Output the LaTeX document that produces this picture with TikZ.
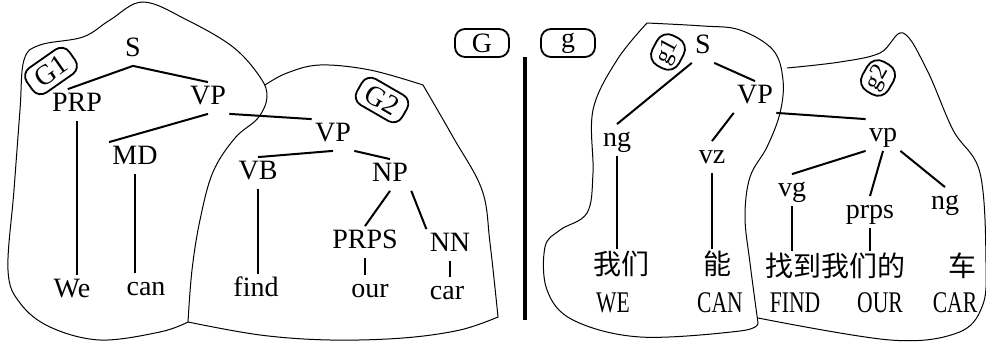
\documentclass[tikz,border=0pt]{standalone}
\usepackage{fontspec}
\setmainfont{Liberation Serif}
\newfontfamily\cjk{Noto Sans CJK SC}
\newfontfamily\glossfont[FakeStretch=0.72]{Liberation Serif}
\tikzset{
  tn/.style={inner sep=1.5pt,text height=9.5pt,text depth=3pt,font=\fontsize{14}{16}\selectfont},
  zh/.style={inner sep=1pt,font=\cjk\fontsize{14}{16}\selectfont},
  gl/.style={inner sep=1pt,font=\glossfont\fontsize{15}{17}\selectfont},
  tag/.style={draw,rounded corners=5pt,line width=0.9pt,inner sep=1pt,font=\fontsize{14}{16}\selectfont},
  edge/.style={line width=1pt},
  blob/.style={line width=0.5pt},
}

\begin{document}
\begin{tikzpicture}[x=0.5pt,y=-0.5pt]
 \useasboundingbox (0,0) rectangle (986,352);
 % English tree
 \node[tn] (eS) at (133,50) {S};
 \node[tn] (ePRP) at (77,105) {PRP};
 \node[tn] (eVPa) at (208,98) {VP};
 \node[tn] (eMD) at (135,158) {MD};
 \node[tn] (eVPb) at (333,135) {VP};
 \node[tn] (eVB) at (258,173) {VB};
 \node[tn] (eNP) at (390,175) {NP};
 \node[tn] (ePRPS) at (365,242) {PRPS};
 \node[tn] (eNN) at (450,245) {NN};
 \node[tn] (eWe) at (72,291) {We};
 \node[tn] (eCan) at (146,289) {can};
 \node[tn] (eFind) at (256,290) {find};
 \node[tn] (eOur) at (370,291) {our};
 \node[tn] (eCar) at (447,293) {car};
 \foreach \a/\b in {eS.south/ePRP.120,eS.south/eVPa.north,eVPa.south/eMD.north west,
   eVPa.south east/eVPb.north west,eVPb.south/eVB.north,eVPb.south east/eNP.north,
   eNP.south/ePRPS.north,eNP.south east/eNN.north west}
   \draw[edge] (\a) -- (\b);
 \foreach \a/\b in {ePRP/eWe,eMD/eCan,eVB/eFind,ePRPS/eOur,eNN/eCar}
   \draw[edge] (\a.south) -- (\a.south |- \b.north);
 % Chinese tree
 \node[tn] (cS) at (703,47) {S};
 \node[tn] (cVP) at (755,97) {VP};
 \node[tn] (cng) at (617,140) {ng};
 \node[tn] (cvz) at (712,157) {vz};
 \node[tn] (cvp) at (883,135) {vp};
 \node[tn] (cvg) at (792,190) {vg};
 \node[tn] (cprps) at (870,212) {prps};
 \node[tn] (cngb) at (945,203) {ng};
 \node[zh] (cWo) at (621,264) {我们};
 \node[zh] (cNeng) at (717,264) {能};
 \node[zh] (cZhao) at (835,266) {找到我们的};
 \node[zh] (cChe) at (962,266) {车};
 \node[gl] (gWE) at (613,303) {WE};
 \node[gl] (gCAN) at (720,303) {CAN};
 \node[gl] (gFIND) at (795,303) {FIND};
 \node[gl] (gOUR) at (880,303) {OUR};
 \node[gl] (gCAR) at (955,303) {CAR};
 \foreach \a/\b in {cS.south west/cng.north,cS.south east/cVP.north,cVP.south west/cvz.north,
   cVP.south east/cvp.north west,cvp.south west/cvg.north,cvp.south/cprps.north,
   cvp.south east/cngb.north}
   \draw[edge] (\a) -- (\b);
 \foreach \a/\b in {cng/cWo,cvz/cNeng,cvg/cZhao,cprps/cZhao}
   \draw[edge] (\a.south) -- (\a.south |- \b.north);
 % tags
 \node[tag,minimum width=27pt,minimum height=14pt] (tG) at (482,43) {G};
 \node[tag,minimum width=27pt,minimum height=14pt] (tg) at (568,43) {g};
 \node[tag,minimum width=26pt,minimum height=15pt,rotate=35] (tGa) at (51,71) {G1};
 \node[tag,minimum width=26pt,minimum height=15pt,rotate=-30] (tGb) at (382,100) {G2};
 \node[tag,minimum width=17pt,minimum height=15pt,rounded corners=6pt,rotate=62,font=\fontsize{12}{14}\selectfont] (tga) at (668,52) {g1};
 \node[tag,minimum width=17pt,minimum height=15pt,rounded corners=6pt,rotate=60,font=\fontsize{12}{14}\selectfont] (tgb) at (878,78) {g2};
 % outlines
 \draw[blob] plot[smooth,tension=0.6] coordinates {(188,322) (192,270) (200,220) (213,172) (235,138)
   (258,118) (267,97) (260,77) (233,47) (187,20) (143,2) (110,20) (83,37) (40,45) (24,60) (20,110)
   (14,190) (8,270) (20,303) (50,327) (100,340) (160,332) (188,322)};
 \draw[blob] plot[smooth,tension=0.6] coordinates {(265,85) (287,73) (320,65) (370,70) (423,85)}
   -- plot[smooth,tension=0.6] coordinates {(423,85) (453,137) (482,190) (490,243) (498,317)}
   -- plot[smooth,tension=0.6] coordinates {(498,317) (460,330) (403,338) (330,340) (260,335) (188,322)};
 \draw[blob] plot[smooth,tension=0.6] coordinates {(647,23) (703,26) (740,30) (773,50) (783,80)
   (780,113) (767,147) (750,177) (745,217) (750,263) (758,323)}
   -- plot[smooth,tension=0.6] coordinates {(758,323) (740,331) (640,337) (573,320) (547,290)
   (545,247) (560,230) (587,213) (593,173) (593,110) (617,60) (647,23)};
 \draw[blob] plot[smooth,tension=0.6] coordinates {(787,68) (840,62) (880,53) (903,33) (927,70)
   (953,130) (980,173) (986,263) (982,307) (957,333) (890,340) (758,318)};
 % divider
 \draw[line width=1.6pt] (525,57) -- (525,320);
\end{tikzpicture}
\end{document}
